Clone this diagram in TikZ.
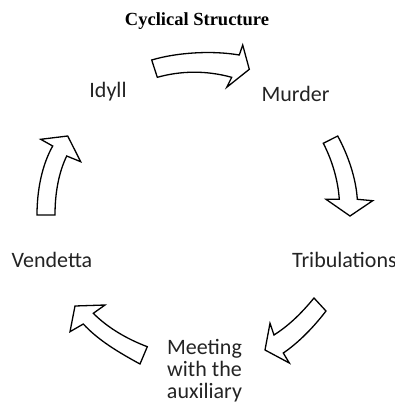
\documentclass[tikz,border=0pt]{standalone}
\usepackage{fontspec}
\setmainfont{Carlito}
\newfontfamily\titlefont{Liberation Serif}
\definecolor{txt}{RGB}{35,35,35}
\begin{document}
\begin{tikzpicture}[x=1pt,y=-1pt,
  lbl/.style={inner sep=0pt, text=txt, font=\fontsize{22}{22}\selectfont},
  blockarrow/.style={draw=black, line width=1.3pt, fill=white, line join=miter}]
\useasboundingbox (0,0) rectangle (395,402);
% title
\node[inner sep=0pt, anchor=base, font=\titlefont\bfseries\fontsize{18.5}{20}\selectfont] (title) at (197,25) {Cyclical Structure};
% labels
\node[lbl, anchor=base] (idyll) at (108,97) {Idyll};
\node[lbl, anchor=base] (murder) at (295.5,101) {Murder};
\node[lbl, anchor=base west] (trib) at (292,267) {Tribulations};
\node[lbl, anchor=base] (vend) at (52,267) {Vendetta};
\node[lbl, anchor=north, align=center] (meet) at (204.5,339) {Meeting\\with the\\auxiliary};
% arrows
\path[blockarrow] (151.7,60) .. controls (175,53) and (210,50) .. (239.3,55) -- (242.7,45) -- (249.3,69.3) -- (226.7,87.3) -- (231.7,77.3) .. controls (205,70) and (180,71) .. (157.3,77.3) -- cycle;
\path[blockarrow] (337.7,136) .. controls (348,155) and (356,178) .. (357.3,199.3) -- (372.7,200.7) -- (350,216) -- (326,199.3) -- (339.3,199.3) .. controls (338,180) and (332,160) .. (323.3,143.3) -- cycle;
\path[blockarrow] (314,298) .. controls (300,315) and (288,326) .. (274,335) -- (270,323.3) -- (265,350) -- (289.3,363) -- (283.3,353) .. controls (298,343) and (313,328) .. (326,311) -- cycle;
\path[blockarrow] (140,364) .. controls (118,352) and (98,340) .. (83.3,324) -- (70,331.7) -- (75,306) -- (105,305) -- (93.3,313.3) .. controls (108,328) and (127,339) .. (147.3,346.7) -- cycle;
\path[blockarrow] (37,215) .. controls (37,190) and (42,165) .. (52.7,146) -- (40.7,139.3) -- (67.7,136) -- (80.7,161.7) -- (66.7,156) .. controls (59,172) and (55,192) .. (55,215) -- cycle;
\end{tikzpicture}
\end{document}
